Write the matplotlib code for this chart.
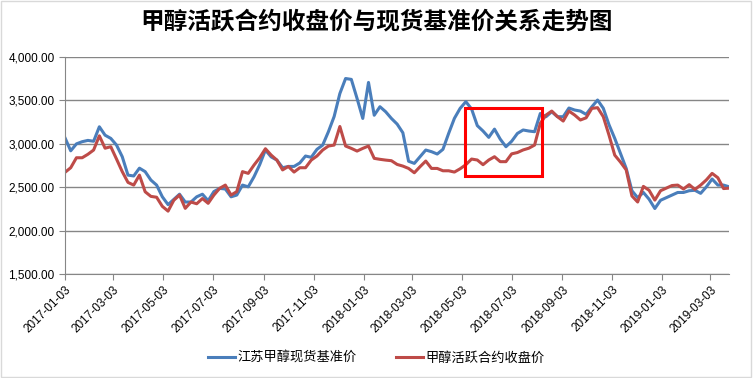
import numpy as np
import pandas as pd
import matplotlib
matplotlib.use('Agg')
import matplotlib.pyplot as plt
import matplotlib.dates as mdates
from matplotlib.patches import Rectangle
from matplotlib.ticker import FuncFormatter

plt.rcParams['font.family'] = ['Liberation Sans', 'Noto Sans CJK SC', 'DejaVu Sans']

title = '甲醇活跃合约收盘价与现货基准价关系走势图'
spot_label = '江苏甲醇现货基准价'
futures_label = '甲醇活跃合约收盘价'

# weekly samples, starting 2017-01-03
start_date = '2017-01-03'
spot = [3070, 2920, 3000, 3025, 3040, 3030, 3197, 3100, 3063, 2986,
        2852, 2640, 2630, 2720, 2680, 2583, 2525, 2390, 2300, 2360,
        2420, 2330, 2330, 2390, 2420, 2345, 2450, 2487, 2480, 2390,
        2410, 2525, 2505, 2620, 2760, 2929, 2850, 2813, 2725, 2740,
        2740, 2780, 2860, 2845, 2937, 2986, 3140, 3315, 3580, 3753,
        3743, 3524, 3293, 3708, 3330, 3428, 3370, 3293, 3228, 3128,
        2800, 2775, 2852, 2929, 2910, 2883, 2937, 3121, 3294, 3409,
        3486, 3402, 3210, 3148, 3075, 3170, 3055, 2967, 3030, 3120,
        3160, 3148, 3140, 3350, 3313, 3370, 3313, 3313, 3413, 3390,
        3378, 3340, 3427, 3505, 3410, 3220, 3063, 2890, 2717, 2460,
        2380, 2440, 2362, 2255, 2350, 2380, 2410, 2440, 2440, 2460,
        2465, 2430, 2505, 2595, 2525, 2525, 2505]
futures = [2672, 2725, 2840, 2840, 2880, 2929, 3093, 2950, 2967, 2825,
           2680, 2556, 2525, 2640, 2448, 2395, 2385, 2280, 2225, 2350,
           2410, 2257, 2330, 2310, 2370, 2315, 2410, 2487, 2525, 2410,
           2450, 2680, 2660, 2755, 2840, 2944, 2871, 2813, 2700, 2740,
           2675, 2725, 2725, 2813, 2860, 2929, 2975, 2986, 3200, 2975,
           2948, 2917, 2948, 2975, 2833, 2822, 2813, 2806, 2763, 2744,
           2717, 2667, 2737, 2802, 2717, 2717, 2690, 2690, 2675, 2713,
           2760, 2825, 2814, 2760, 2814, 2852, 2795, 2795, 2885, 2900,
           2930, 2950, 2986, 3236, 3332, 3378, 3313, 3263, 3378, 3332,
           3275, 3300, 3409, 3417, 3313, 3100, 2870, 2790, 2700, 2400,
           2330, 2510, 2465, 2352, 2460, 2490, 2520, 2525, 2480, 2530,
           2475, 2525, 2585, 2660, 2610, 2485, 2490]

tick_dates = ['2017-01-03', '2017-03-03', '2017-05-03', '2017-07-03',
              '2017-09-03', '2017-11-03', '2018-01-03', '2018-03-03',
              '2018-05-03', '2018-07-03', '2018-09-03', '2018-11-03',
              '2019-01-03', '2019-03-03']
y_ticks = [1500, 2000, 2500, 3000, 3500, 4000]

# highlighted window (red box)
box_start, box_end = '2018-05-07', '2018-08-09'
box_low, box_high = 2630, 3410

dates = pd.date_range(start_date, periods=len(spot), freq='7D')

fig = plt.figure(figsize=(7.53, 3.78), dpi=100)
ax = fig.add_axes([0.0863, 0.275, 0.8822, 0.574])

blue = '#4A7EBB'
red = '#BE4B48'
ax.plot(dates, spot, color=blue, lw=2.2, label=spot_label, solid_joinstyle='round')
ax.plot(dates, futures, color=red, lw=2.2, label=futures_label, solid_joinstyle='round')

x0 = mdates.date2num(pd.Timestamp(box_start))
x1 = mdates.date2num(pd.Timestamp(box_end))
ax.add_patch(Rectangle((x0, box_low), x1 - x0, box_high - box_low,
                       fill=False, edgecolor='#FF0000', lw=2.2, zorder=5))

ax.set_ylim(1500, 4000)
ax.set_yticks(y_ticks)
ax.yaxis.set_major_formatter(FuncFormatter(lambda v, p: f'{v:,.2f}'))
ax.set_xlim(dates[0], dates[-1])
ax.set_xticks(pd.to_datetime(tick_dates))
ax.set_xticklabels(tick_dates, rotation=45, ha='right', rotation_mode='anchor')

ax.grid(axis='y', color='#868686', lw=1)
ax.set_axisbelow(True)
for s in ['top', 'right']:
    ax.spines[s].set_visible(False)
for s in ['left', 'bottom']:
    ax.spines[s].set_color('#868686')
ax.tick_params(axis='both', colors='#868686', length=4, labelsize=8.5, labelcolor='black')
ax.tick_params(axis='x', pad=3)

fig.text(0.5, 0.942, title, ha='center', va='center', fontsize=17,
         fontweight='bold', family=['Noto Sans CJK SC'])

fig.legend(loc='center', bbox_to_anchor=(0.5, 0.052), ncol=2, frameon=False,
           handlelength=2.0, handletextpad=0.2, columnspacing=3.0,
           prop={'family': ['Noto Sans CJK SC'], 'size': 9.5})

fig.patches.append(Rectangle((0.001, 0.002), 0.997, 0.995, transform=fig.transFigure,
                             fill=False, edgecolor='#D9D9D9', lw=1))

fig.savefig('out.png', dpi=100)
